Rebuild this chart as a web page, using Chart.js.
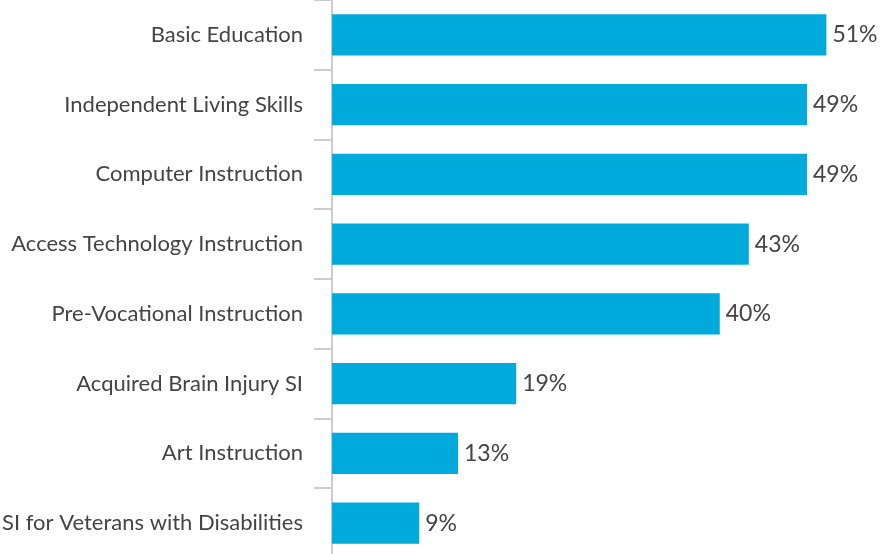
<!DOCTYPE html>
<html>
<head>
<meta charset="utf-8">
<script src="https://cdn.jsdelivr.net/npm/chart.js@4/dist/chart.umd.min.js"></script>
<style>
  html, body { margin: 0; padding: 0; background: #fff; overflow: hidden; }
  #wrap { width: 880px; height: 558px; }
</style>
</head>
<body>
<div id="wrap"><canvas id="barChart" width="880" height="558"></canvas></div>
<script>
const categories = [
  'Basic Education',
  'Independent Living Skills',
  'Computer Instruction',
  'Access Technology Instruction',
  'Pre-Vocational Instruction',
  'Acquired Brain Injury SI',
  'Art Instruction',
  'SI for Veterans with Disabilities',
];
const shares = [51, 49, 49, 43, 40, 19, 13, 9];

const barColor = '#00aadb';
const textColor = '#444444';
const fontFamily = 'Lato, "Open Sans", sans-serif';

// percent labels just past the end of each bar
const valueLabels = {
  id: 'valueLabels',
  afterDatasetsDraw(chart) {
    const { ctx } = chart;
    const meta = chart.getDatasetMeta(0);
    ctx.save();
    ctx.font = `23px ${fontFamily}`;
    ctx.fillStyle = textColor;
    ctx.textAlign = 'left';
    ctx.textBaseline = 'middle';
    meta.data.forEach((bar, i) => {
      ctx.fillText(`${shares[i]}%`, bar.x + 6, bar.y);
    });
    ctx.restore();
  },
};

new Chart(document.getElementById('barChart'), {
  type: 'bar',
  data: {
    labels: categories,
    datasets: [{
      data: shares,
      backgroundColor: barColor,
      categoryPercentage: 1,
      barPercentage: 0.59,
    }],
  },
  options: {
    indexAxis: 'y',
    responsive: false,
    animation: false,
    layout: { padding: { left: 0, right: 10, top: 0, bottom: 0 } },
    scales: {
      x: {
        display: false,
        min: 0,
        max: 55.5,
      },
      y: {
        afterFit(scale) {
          scale.width = 332;
          scale.paddingTop = 0;
          scale.paddingBottom = 0;
        },
        border: { display: true, color: '#cccccc', width: 2 },
        grid: {
          drawOnChartArea: false,
          drawTicks: true,
          tickLength: 18,
          color: '#cccccc',
          lineWidth: 2,
        },
        ticks: {
          color: textColor,
          padding: 11,
          font: { family: fontFamily, size: 22 },
        },
      },
    },
    plugins: {
      legend: { display: false },
      tooltip: { enabled: false },
    },
  },
  plugins: [valueLabels],
});
</script>
</body>
</html>
